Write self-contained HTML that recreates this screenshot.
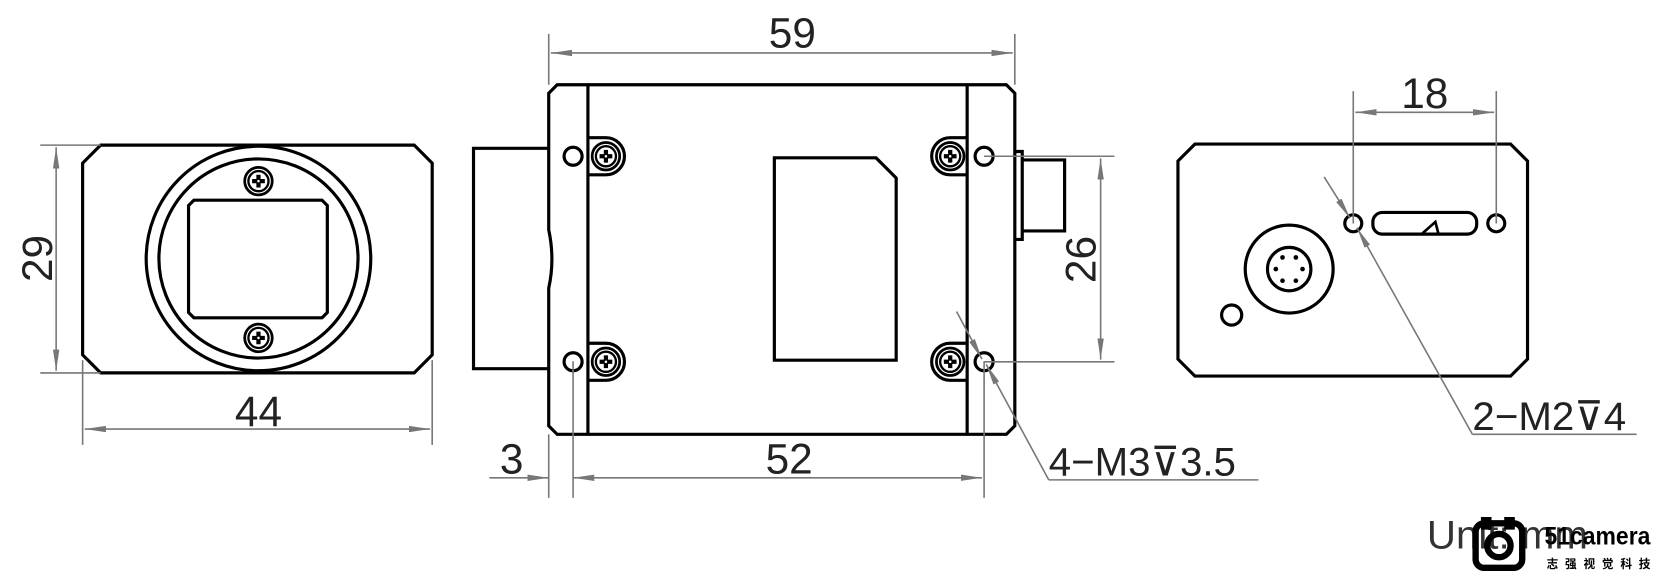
<!DOCTYPE html>
<html><head><meta charset="utf-8"><style>
html,body{margin:0;padding:0;background:#fff;}
svg{display:block;}
text{font-family:"Liberation Sans","Noto Sans CJK SC",sans-serif;}
</style></head><body>
<svg width="1661" height="580" viewBox="0 0 1568 547.5" preserveAspectRatio="none" xmlns="http://www.w3.org/2000/svg">
<defs>
<marker id="a" viewBox="0 0 20 6" refX="20" refY="3" markerWidth="20" markerHeight="6" markerUnits="userSpaceOnUse" orient="auto-start-reverse">
<path d="M0,0 L20,3 L0,6 Z" fill="#777"/>
</marker>
<g id="scr">
<circle r="13" fill="none" stroke="#000" stroke-width="2.6"/>
<circle r="9.5" fill="none" stroke="#000" stroke-width="2.2"/>
<path d="M-6,0 H6 M0,-6 V6" stroke="#000" stroke-width="4"/>
<circle r="1.2" fill="#fff"/>
</g>
</defs>
<rect width="1568" height="547.5" fill="#fff"/>

<!-- LEFT VIEW -->
<g fill="none" stroke="#000" stroke-width="3">
<path d="M95,137 H391 L408,154 V335 L391,352 H95 L78,335 V154 Z"/>
<circle cx="244" cy="244" r="106"/>
<circle cx="244" cy="244" r="94"/>
<path d="M183,189 H304 L309,194 V295 L304,300 H183 L178,295 V194 Z"/>
</g>
<g transform="translate(244,171)"><use href="#scr"/></g>
<g transform="translate(244,319)"><use href="#scr"/></g>
<g stroke="#777" stroke-width="1.5" fill="none">
<path d="M38,137 H95 M38,352 H95"/>
<path d="M53,139 V350" marker-start="url(#a)" marker-end="url(#a)"/>
<path d="M78,340 V420 M408,340 V420"/>
<path d="M80,405 H406" marker-start="url(#a)" marker-end="url(#a)"/>
</g>
<text x="0" y="0" font-size="40" fill="#222" text-anchor="middle" transform="translate(49,244) rotate(-90)">29</text>
<text x="244" y="402" font-size="40" fill="#222" text-anchor="middle">44</text>

<!-- MIDDLE VIEW -->
<g fill="none" stroke="#000" stroke-width="3">
<path d="M518,140 L447,140 V348 L518,348"/>
<path d="M526,80 H950 L958,88 V402 L950,410 H526 L518,402 V272 Q524,245 518,217 V88 Z"/>
<path d="M555,80 V410 M913,80 V410"/>
<path d="M731,149 H827 L846,168 V340 H731 Z"/>
<path d="M958,143 H965 V226 H958"/>
<path d="M965,151 H1005 V218 H965"/>
<circle cx="541" cy="147.5" r="8.5"/>
<circle cx="541" cy="341.5" r="8.5"/>
<circle cx="929" cy="147.5" r="8.5"/>
<circle cx="929" cy="341.5" r="8.5"/>
<path d="M555,130 H572 A17.5,17.5 0 0 1 572,165 H555"/>
<path d="M555,324 H572 A17.5,17.5 0 0 1 572,359 H555"/>
<path d="M913,130 H897 A17.5,17.5 0 0 0 897,165 H913"/>
<path d="M913,324 H897 A17.5,17.5 0 0 0 897,359 H913"/>
</g>
<g transform="translate(572,147.5)"><use href="#scr"/></g>
<g transform="translate(572,341.5)"><use href="#scr"/></g>
<g transform="translate(897,147.5)"><use href="#scr"/></g>
<g transform="translate(897,341.5)"><use href="#scr"/></g>
<g stroke="#777" stroke-width="1.5" fill="none">
<path d="M518,32 V80 M958,32 V80"/>
<path d="M520,50 H956" marker-start="url(#a)" marker-end="url(#a)"/>
<path d="M518,410 V470 M541,341 V470 M929,341 V470"/>
<path d="M462,451 H518" marker-end="url(#a)"/>
<path d="M541,451 H927" marker-start="url(#a)" marker-end="url(#a)"/>
<path d="M929,147.5 H1052 M929,341.5 H1052"/>
<path d="M1039,149.5 V339.5" marker-start="url(#a)" marker-end="url(#a)"/>
<path d="M903,294 L927,339" marker-end="url(#a)"/>
<path d="M990,453 L931,344" marker-end="url(#a)"/>
<path d="M990,453 H1188"/>
</g>
<text x="748" y="45" font-size="40" fill="#222" text-anchor="middle">59</text>
<text x="483" y="447" font-size="40" fill="#222" text-anchor="middle">3</text>
<text x="745" y="447" font-size="40" fill="#222" text-anchor="middle">52</text>
<text x="0" y="0" font-size="40" fill="#222" text-anchor="middle" transform="translate(1034,245) rotate(-90)">26</text>
<text x="990" y="449" font-size="38" fill="#222">4−M3<tspan font-family="DejaVu Sans">⊽</tspan>3.5</text>

<!-- RIGHT VIEW -->
<g fill="none" stroke="#000" stroke-width="3">
<path d="M1128,136 H1426 L1442,152 V339 L1426,355 H1128 L1112,339 V152 Z"/>
<circle cx="1217" cy="254" r="41.5"/>
<circle cx="1217" cy="254" r="20.5"/>
<circle cx="1162.7" cy="297.4" r="9.5"/>
<circle cx="1277.5" cy="210.8" r="8"/>
<circle cx="1412.5" cy="210.8" r="8"/>
<rect x="1296" y="200.5" width="98" height="20.5" rx="9"/>
<path d="M1342,221 L1355,209.5 L1358,221" stroke-width="2.5"/>
</g>
<g fill="#000">
<circle cx="1210.7" cy="243" r="2.2"/><circle cx="1223.3" cy="243" r="2.2"/>
<circle cx="1204.4" cy="254" r="2.2"/><circle cx="1229.6" cy="254" r="2.2"/>
<circle cx="1210.7" cy="265" r="2.2"/><circle cx="1223.3" cy="265" r="2.2"/>
</g>
<g stroke="#777" stroke-width="1.5" fill="none">
<path d="M1277.5,86 V211 M1412.5,86 V211"/>
<path d="M1279.5,106 H1410.5" marker-start="url(#a)" marker-end="url(#a)"/>
<path d="M1250,167 L1274.5,206" marker-end="url(#a)"/>
<path d="M1390,410 L1281,215" marker-end="url(#a)"/>
<path d="M1390,410 H1545"/>
</g>
<text x="1345" y="102" font-size="40" fill="#222" text-anchor="middle">18</text>
<text x="1390" y="406" font-size="38" fill="#222">2−M2<tspan font-family="DejaVu Sans">⊽</tspan>4</text>

<!-- UNIT / LOGO -->
<text x="1347" y="518" font-size="38" fill="#333">Unit: mm</text>
<g fill="none" stroke="#000" stroke-width="6">
<rect x="1393" y="494" width="44" height="42" rx="8"/>
<circle cx="1415" cy="515" r="11"/>
</g>
<path d="M1398,488 H1408 V500 H1398 Z M1420,488 H1430 V500 H1420 Z" fill="#000"/>
<text x="1458" y="514" font-size="24" font-weight="bold" fill="#000" textLength="100" lengthAdjust="spacingAndGlyphs">51camera</text>
<text x="1460" y="536" font-size="11" font-weight="bold" fill="#000" textLength="98" lengthAdjust="spacing">志强视觉科技</text>
</svg>
</body></html>
